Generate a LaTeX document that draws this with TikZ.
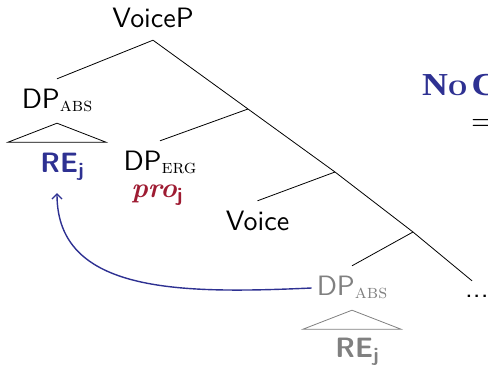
\documentclass[tikz,border=0pt]{standalone}
\usepackage{fontspec}
\usepackage{graphicx}
\usetikzlibrary{calc,arrows.meta}

\newfontfamily\headfont{Liberation Serif}

\definecolor{tblue}{RGB}{46,49,146}
\definecolor{tred}{RGB}{158,27,50}
\definecolor{tgray}{RGB}{128,128,128}

% text is set at 10pt design size and enlarged
\newcommand{\tensize}{\fontsize{10}{12}\selectfont}
\newcommand{\enl}[1]{\scalebox{2.8}{\tensize #1}}
% case subscripts in small caps, index subscripts in bold sans
\newcommand{\casesub}[1]{\raisebox{-1.2pt}{\fontsize{7}{8}\selectfont\rmfamily\mdseries\upshape\textsc{#1}}}
\newcommand{\idxsub}{\raisebox{-1.6pt}{\fontsize{7}{8}\selectfont\sffamily\bfseries\upshape j}}

\tikzset{
  tree/.style={text height=19pt, text depth=5pt, inner ysep=10pt,
    inner xsep=2pt, anchor=base},
  branch/.style={draw=black, line width=0.8pt},
  link/.style={draw=tblue, line width=1.4pt,
    -{Straight Barb[length=5pt,width=10pt,line width=1.2pt]}},
}

\begin{document}
\begin{tikzpicture}[x=1pt,y=-1pt]
\useasboundingbox (0,0) rectangle (488,365);
\clip (0,0) rectangle (488,365);

% labelled tree nodes
\node[tree, text depth=0pt, inner ysep=13pt] (voicep) at (153,27) {\enl{\sffamily VoiceP}};
\node[tree] (dpabs) at (57,108) {\enl{\sffamily DP\casesub{abs}}};
\node[tree, text=tblue] (reabs) at (62,172) {\enl{\sffamily\bfseries RE\idxsub}};
\node[tree] (dperg) at (160,170) {\enl{\sffamily DP\casesub{erg}}};
\node[tree, text=tred] (pro) at (157,197) {\enl{\rmfamily\bfseries\itshape pro\idxsub}};
\node[tree] (voice) at (257.5,230) {\enl{\sffamily Voice}};
\node[tree, text=tgray] (dpabs2) at (352,295) {\enl{\sffamily DP\casesub{abs}}};
\node[tree, text=tgray] (reabs2) at (357,357) {\enl{\sffamily\bfseries RE\idxsub}};
\node[anchor=base west, inner xsep=0pt, inner ysep=10pt, text height=6pt, text depth=0pt]
  (dots) at (465,297) {\enl{\sffamily ...}};

% unlabelled joints of the spine
\coordinate (j1) at (248,109);
\coordinate (j2) at (335,172);
\coordinate (j3) at (413,232);

% branches
\draw[branch] (dpabs.north) -- (voicep.south) -- (j1) -- (j2) -- (j3) -- ([xshift=7pt]dots.north west);
\draw[branch] (j1) -- (dperg.north);
\draw[branch] (j2) -- (voice.north);
\draw[branch] (j3) -- (dpabs2.north);

% roof triangles
\draw[branch] (dpabs.south) -- ++(-49,19) -- ++(98,0) -- cycle;
\draw[branch, draw=tgray] (dpabs2.south) -- ++(-49,19) -- ++(98,0) -- cycle;

% binding arrow
\coordinate (tgt) at ([xshift=-5pt,yshift=-6pt]reabs.south);
\draw[link] ([xshift=-3pt]dpabs2.west) .. controls ($(dpabs2.west)+(-135,6)$) and ($(tgt)+(0,100)$) .. (tgt);

% heading on the right, in caps and small caps
\node[anchor=base west, inner sep=0pt, text=tblue] (head) at (422,95)
  {\scalebox{1.12}[1]{\headfont\bfseries\fontsize{32}{36}\selectfont
   N{\fontsize{22}{26}\selectfont O}\hspace{4pt}C}};
\node[anchor=base west, inner sep=0pt] (implies) at (471,130) {\scalebox{3}{\tensize$\Rightarrow$}};
\end{tikzpicture}
\end{document}
